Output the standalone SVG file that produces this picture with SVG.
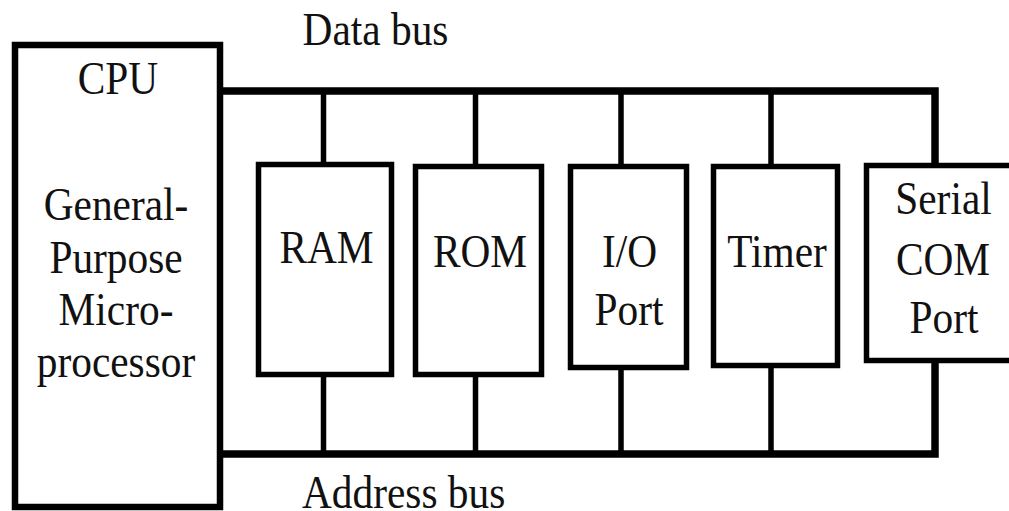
<svg xmlns="http://www.w3.org/2000/svg" width="1009" height="511" viewBox="0 0 1009 511">
<style>
.box{fill:#fff;stroke:#000;stroke-width:5.5}
.cpu{fill:#fff;stroke:#000;stroke-width:6.5}
.bus{stroke:#000;stroke-width:7.5;fill:none}
.wire{stroke:#000;stroke-width:5.5;fill:none}
text{font-family:"Liberation Serif","Times New Roman",serif;font-size:47px;fill:#111;text-anchor:middle}
</style>
<rect width="1009" height="511" fill="#fff"/>
<g id="connectors">
<polyline class="bus" points="220,91 935,91 935,163"/>
<polyline class="bus" points="220,454 935,454 935,363"/>
<line class="wire" x1="323.5" y1="91" x2="323.5" y2="162"/>
<line class="wire" x1="323.5" y1="377" x2="323.5" y2="454"/>
<line class="wire" x1="475.5" y1="91" x2="475.5" y2="164"/>
<line class="wire" x1="475.5" y1="377" x2="475.5" y2="454"/>
<line class="wire" x1="621" y1="91" x2="621" y2="164"/>
<line class="wire" x1="621" y1="370" x2="621" y2="454"/>
<line class="wire" x1="771" y1="91" x2="771" y2="164"/>
<line class="wire" x1="771" y1="368" x2="771" y2="454"/>
</g>
<g id="labels">
<text transform="translate(375.5,45) scale(0.88,1)">Data bus</text>
<text transform="translate(302,508) scale(0.88,1)" style="text-anchor:start">Address bus</text>
</g>
<g id="cpu">
<rect class="cpu" x="15" y="45" width="205" height="462"/>
<text transform="translate(118,94) scale(0.88,1)">CPU</text>
<text transform="translate(116,220) scale(0.88,1)">General-</text>
<text transform="translate(116,273) scale(0.88,1)">Purpose</text>
<text transform="translate(116,325) scale(0.88,1)">Micro-</text>
<text transform="translate(116,377) scale(0.88,1)">processor</text>
</g>
<g id="ram">
<rect class="box" x="258.5" y="164.5" width="133" height="210"/>
<text transform="translate(326.5,263) scale(0.88,1)">RAM</text>
</g>
<g id="rom">
<rect class="box" x="415.5" y="166.5" width="126" height="208"/>
<text transform="translate(480,267) scale(0.88,1)">ROM</text>
</g>
<g id="io">
<rect class="box" x="570.5" y="166.5" width="116" height="201"/>
<text transform="translate(629.5,267) scale(0.88,1)">I/O</text>
<text transform="translate(629,325) scale(0.88,1)">Port</text>
</g>
<g id="timer">
<rect class="box" x="713.5" y="166.5" width="124" height="199"/>
<text transform="translate(777,267) scale(0.88,1)">Timer</text>
</g>
<g id="serial">
<rect class="box" x="866.5" y="165.5" width="160" height="195"/>
<text transform="translate(943.5,214) scale(0.88,1)">Serial</text>
<text transform="translate(943,275) scale(0.88,1)">COM</text>
<text transform="translate(944,333) scale(0.88,1)">Port</text>
</g>
</svg>
